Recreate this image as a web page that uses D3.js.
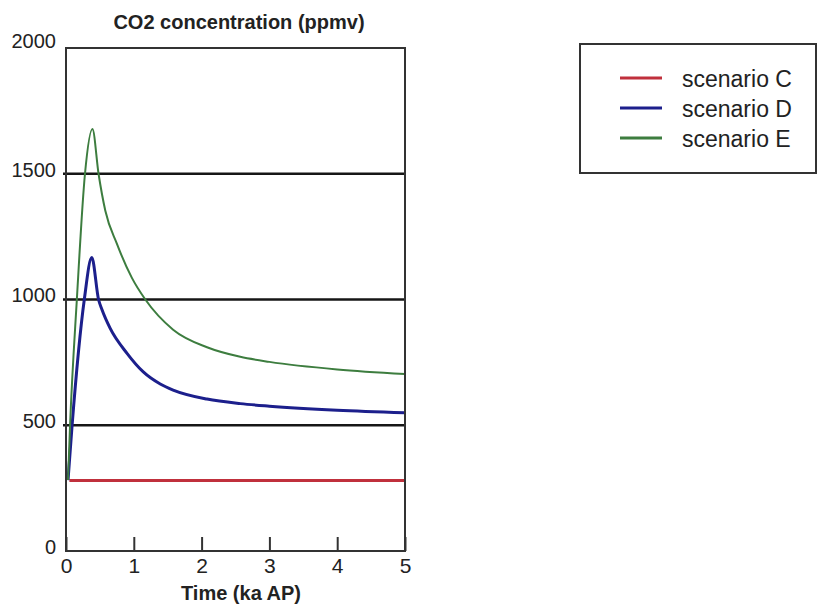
<!DOCTYPE html>
<html>
<head>
<meta charset="utf-8">
<script src="https://cdn.jsdelivr.net/npm/d3@7"></script>
<style>
  body { margin: 0; background: #fff; }
  svg { display: block; font-family: "Liberation Sans", Arial, Helvetica, sans-serif; }
</style>
</head>
<body>
<div id="chart"></div>
<script>
// Data (time in ka AP, CO2 in ppmv)
const timeC = [0.05, 5.0];
const co2C = [280, 280];

const timeD = [0.03, 0.09, 0.27, 0.38, 0.48, 0.53, 0.65, 0.9, 1.14, 1.39, 1.58, 2.08, 2.57, 3.0, 4.0, 5.0];
const co2D = [282, 500, 1000, 1167, 1000, 960, 886, 786, 712, 664, 640, 604, 586, 576, 560, 550];

const timeE = [0.03, 0.06, 0.16, 0.28, 0.39, 0.48, 0.58, 0.75, 0.97, 1.17, 1.58, 2.08, 2.57, 3.0, 4.0, 5.0];
const co2E = [282, 500, 1000, 1500, 1678, 1500, 1353, 1222, 1087, 1000, 880, 810, 772, 752, 722, 704];

const scenarioNames = ["scenario C", "scenario D", "scenario E"];
const scenarioColors = ["#c0303c", "#1c1f8c", "#3d7d3f"];
const scenarioWidths = [3, 3, 2];

const xTicks = [0, 1, 2, 3, 4, 5];
const yTicks = [0, 500, 1000, 1500, 2000];
const gridValues = [500, 1000, 1500];

const width = 818;
const height = 608;
const plot = { left: 66, right: 405, top: 48, bottom: 551 };

const svg = d3.select("#chart")
  .append("svg")
  .attr("width", width)
  .attr("height", height);

svg.append("rect").attr("width", width).attr("height", height).attr("fill", "#fff");

// Scales
const x = d3.scaleLinear().domain([0, 5]).range([plot.left, plot.right]);
const y = d3.scaleLinear().domain([0, 2000]).range([plot.bottom, plot.top]);

// Horizontal reference lines
svg.append("g")
  .selectAll("line")
  .data(gridValues)
  .join("line")
  .attr("x1", plot.left - 3)
  .attr("x2", plot.right)
  .attr("y1", d => y(d))
  .attr("y2", d => y(d))
  .attr("stroke", "#161616")
  .attr("stroke-width", 2.6);

// Series
const series = [
  timeC.map((t, i) => ({ t, v: co2C[i] })),
  timeD.map((t, i) => ({ t, v: co2D[i] })),
  timeE.map((t, i) => ({ t, v: co2E[i] }))
];

const line = d3.line()
  .x(d => x(d.t))
  .y(d => y(d.v))
  .curve(d3.curveMonotoneX);

svg.append("g")
  .selectAll("path")
  .data(series)
  .join("path")
  .attr("d", line)
  .attr("fill", "none")
  .attr("stroke", (d, i) => scenarioColors[i])
  .attr("stroke-width", (d, i) => scenarioWidths[i])
  .attr("stroke-linejoin", "round");

// Frame
svg.append("rect")
  .attr("x", plot.left)
  .attr("y", plot.top)
  .attr("width", plot.right - plot.left)
  .attr("height", plot.bottom - plot.top)
  .attr("fill", "none")
  .attr("stroke", "#333")
  .attr("stroke-width", 2);

// Axes
const yAxis = svg.append("g")
  .attr("transform", `translate(${plot.left},0)`)
  .call(d3.axisLeft(y).tickValues(yTicks).tickFormat(d3.format("d")).tickSize(0).tickPadding(10));
yAxis.select(".domain").remove();
yAxis.selectAll("text")
  .attr("dy", d => d === 2000 ? "-0.05em" : "0.12em")
  .attr("font-size", 20)
  .attr("fill", "#222");

const xAxis = svg.append("g")
  .attr("transform", `translate(0,${plot.bottom})`)
  .call(d3.axisBottom(x).tickValues(xTicks).tickFormat(d3.format("d")).tickSizeInner(-14).tickSizeOuter(0).tickPadding(7));
xAxis.select(".domain").remove();
xAxis.selectAll("line").attr("stroke", "#333").attr("stroke-width", 2);
xAxis.selectAll("text")
  .attr("font-size", 21)
  .attr("fill", "#222");

// Titles
svg.append("text")
  .attr("x", 239)
  .attr("y", 29)
  .attr("text-anchor", "middle")
  .attr("font-size", 20)
  .attr("font-weight", "bold")
  .attr("fill", "#222")
  .text("CO2 concentration (ppmv)");

svg.append("text")
  .attr("x", 241)
  .attr("y", 600)
  .attr("text-anchor", "middle")
  .attr("font-size", 20)
  .attr("font-weight", "bold")
  .attr("fill", "#222")
  .text("Time (ka AP)");

// Legend
const legend = svg.append("g");
legend.append("rect")
  .attr("x", 580)
  .attr("y", 44)
  .attr("width", 236)
  .attr("height", 129)
  .attr("fill", "#fff")
  .attr("stroke", "#333")
  .attr("stroke-width", 2);

const items = legend.selectAll("g.item")
  .data(scenarioNames)
  .join("g")
  .attr("class", "item")
  .attr("transform", (d, i) => `translate(0,${78 + i * 30})`);

items.append("line")
  .attr("x1", 620)
  .attr("x2", 662)
  .attr("stroke", (d, i) => scenarioColors[i])
  .attr("stroke-width", 3);

items.append("text")
  .attr("x", 682)
  .attr("y", 2)
  .attr("dy", "0.3em")
  .attr("font-size", 23)
  .attr("fill", "#222")
  .text(d => d);
</script>
</body>
</html>
